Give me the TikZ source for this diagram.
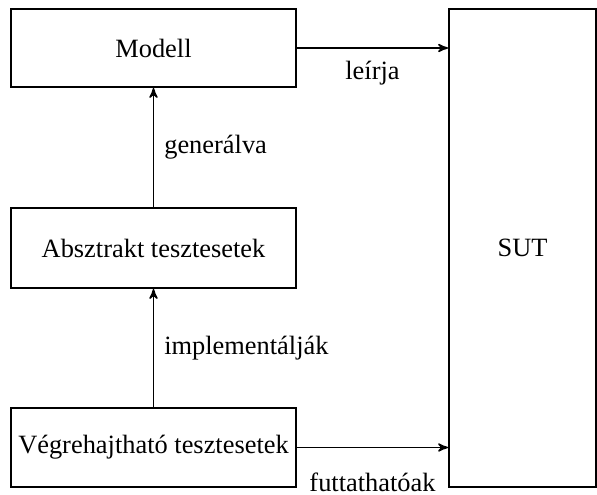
\documentclass[tikz,border=0pt]{standalone}
\usepackage{fontspec}
\setmainfont{Liberation Serif}
\usetikzlibrary{arrows}
\usetikzlibrary{positioning}

\begin{document}
\begin{tikzpicture}[->,>=stealth',x=0.5pt,y=-0.5pt,auto,line width=0.8pt,
  main node/.style={rectangle,draw,line width=1pt,inner sep=0pt,
    minimum width=142.5pt,font=\fontsize{13.2}{16}\selectfont}]
  \useasboundingbox (0,0) rectangle (597,494);

  \node[main node,minimum height=39pt] (1) at (153.5,48) {Modell};
  \node[main node,minimum height=40pt] (2) at (153.5,248) {Absztrakt tesztesetek};
  \node[main node,minimum height=39.5pt] (3) at (153.5,447.5) {Végrehajtható tesztesetek};
  \node[main node,minimum width=73.5pt,minimum height=239pt] (4) at (522.5,248) {SUT};

  \path[every node/.style={font=\fontsize{13.2}{16}\selectfont,inner sep=3pt}]
    (2) edge node [right=2pt] {generálva} (1)
    (3) edge node [right=2pt] {implementálják} (2)
    (1) edge node [below=3pt] {leírja} (1 -| 4.west)
    (3) edge node [below=9.5pt] {futtathatóak} (3 -| 4.west);
\end{tikzpicture}
\end{document}
